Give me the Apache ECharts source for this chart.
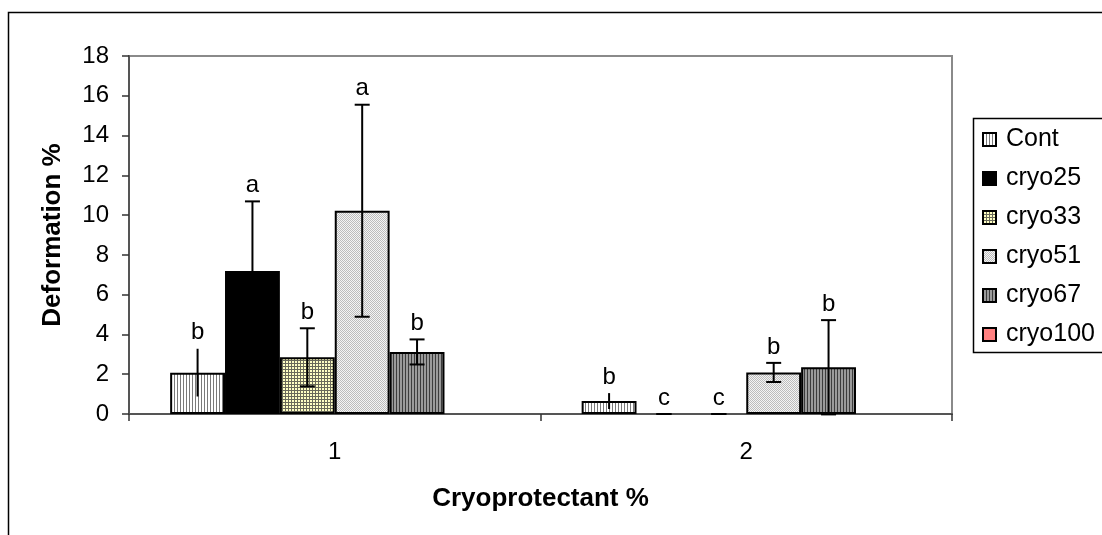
<!DOCTYPE html>
<html>
<head>
<meta charset="utf-8">
<script src="https://cdn.jsdelivr.net/npm/echarts@6/dist/echarts.min.js"></script>
<style>
  html, body { margin: 0; padding: 0; background: #fff; }
  #chart { width: 1102px; height: 535px; }
</style>
</head>
<body>
<div id="chart"></div>
<script>
// data
const categories = ['1', '2'];
const seriesNames = ['Cont', 'cryo25', 'cryo33', 'cryo51', 'cryo67', 'cryo100'];

const cont = [2.08, 0.65];
const cryo25 = [7.19, 0];
const cryo33 = [2.85, 0];
const cryo51 = [10.22, 2.09];
const cryo67 = [3.12, 2.35];
const cryo100 = ['-', '-'];

const contErr = [1.2, 0.4];
const cryo25Err = [3.5, 0];
const cryo33Err = [1.46, 0];
const cryo51Err = [5.33, 0.48];
const cryo67Err = [0.63, 2.37];
const cryo100Err = ['-', '-'];

const contSig = ['b', 'b'];
const cryo25Sig = ['a', 'c'];
const cryo33Sig = ['b', 'c'];
const cryo51Sig = ['a', 'b'];
const cryo67Sig = ['b', 'b'];
const cryo100Sig = ['', ''];

const yTicks = { min: 0, max: 18, interval: 2 };

const values = [cont, cryo25, cryo33, cryo51, cryo67, cryo100];
const errors = [contErr, cryo25Err, cryo33Err, cryo51Err, cryo67Err, cryo100Err];
const letters = [contSig, cryo25Sig, cryo33Sig, cryo51Sig, cryo67Sig, cryo100Sig];

const FONT = "'Liberation Sans', Arial, sans-serif";

// small canvas fills that mimic the excel hatch patterns
function makePattern(w, h, draw) {
  const c = document.createElement('canvas');
  c.width = w; c.height = h;
  const ctx = c.getContext('2d');
  draw(ctx);
  return { image: c, repeat: 'repeat' };
}
const fills = [
  makePattern(3, 1, ctx => {
    ctx.fillStyle = '#ffffff'; ctx.fillRect(0, 0, 3, 1);
    ctx.fillStyle = '#7a7a7a'; ctx.fillRect(0, 0, 1, 1);
  }),
  '#000000',
  makePattern(3, 3, ctx => {
    ctx.fillStyle = '#ffffc4'; ctx.fillRect(0, 0, 3, 3);
    ctx.fillStyle = '#6a6a5a'; ctx.fillRect(0, 0, 3, 1); ctx.fillRect(0, 0, 1, 3);
  }),
  makePattern(2, 2, ctx => {
    ctx.fillStyle = '#f4f4f4'; ctx.fillRect(0, 0, 2, 2);
    ctx.fillStyle = '#bcbcbc'; ctx.fillRect(0, 0, 1, 1); ctx.fillRect(1, 1, 1, 1);
  }),
  makePattern(3, 1, ctx => {
    ctx.fillStyle = '#9a9a9a'; ctx.fillRect(0, 0, 3, 1);
    ctx.fillStyle = '#3c3c3c'; ctx.fillRect(0, 0, 1, 1);
  }),
  '#ff8080'
];

// error bar items: [category index, series index, mean, error]
const errItems = [];
seriesNames.forEach((name, s) => {
  categories.forEach((cat, c) => {
    if (values[s][c] === '-') return;
    errItems.push({ value: [c, s, values[s][c], errors[s][c]], letter: letters[s][c] });
  });
});

const chart = echarts.init(document.getElementById('chart'));

const barSeries = seriesNames.map((name, s) => ({
  name: name,
  type: 'bar',
  // zero-height bars get no outline, excel draws nothing there
  data: values[s].map(v => v === 0 ? { value: 0, itemStyle: { borderWidth: 0 } } : v),
  barGap: '0%',
  barCategoryGap: '20%',
  itemStyle: { color: fills[s], borderColor: '#000', borderWidth: 2 },
  z: 2
}));

const errSeries = {
  name: 'err',
  type: 'custom',
  data: errItems,
  encode: { x: 0, y: 2 },
  z: 5,
  renderItem: function (params, api) {
    const c = api.value(0), s = api.value(1), v = api.value(2), e = api.value(3);
    const band = api.size([1, 0])[0];
    const bw = band * 0.8 / seriesNames.length;
    const center = api.coord([c, v]);
    const x = center[0] - band * 0.4 + bw * (s + 0.5);
    const top = api.coord([c, v + e])[1];
    const bot = api.coord([c, v - e])[1];
    const st = { stroke: '#000', lineWidth: 2 };
    const kids = [
      { type: 'line', shape: { x1: x, y1: top, x2: x, y2: bot }, style: st }
    ];
    if (s !== 0) {
      kids.push({ type: 'line', shape: { x1: x - 7.5, y1: top, x2: x + 7.5, y2: top }, style: st });
      kids.push({ type: 'line', shape: { x1: x - 7.5, y1: bot, x2: x + 7.5, y2: bot }, style: st });
    }
    const letter = errItems[params.dataIndex].letter;
    if (letter) {
      kids.push({
        type: 'text',
        style: {
          text: letter, x: x, y: top - 4,
          align: 'center', verticalAlign: 'bottom',
          fontSize: 24, fontFamily: FONT, fill: '#000'
        }
      });
    }
    return { type: 'group', children: kids };
  }
};

const option = {
  animation: false,
  backgroundColor: '#fff',
  textStyle: { fontFamily: FONT },
  grid: {
    left: 129, top: 56, right: 150, bottom: 121,
    show: true, borderColor: '#8a8a8a', borderWidth: 2
  },
  legend: {
    data: seriesNames,
    orient: 'vertical',
    left: 977,
    top: 122,
    itemWidth: 13,
    itemHeight: 13,
    itemGap: 14,
    icon: 'rect',
    textStyle: { fontSize: 25, color: '#000', fontFamily: FONT, lineHeight: 24, padding: [0, 0, 0, 5] }
  },
  xAxis: {
    type: 'category',
    data: categories,
    name: 'Cryoprotectant %',
    nameLocation: 'middle',
    nameGap: 72,
    nameTextStyle: { fontSize: 26, fontWeight: 'bold', color: '#000', fontFamily: FONT },
    axisLine: { lineStyle: { color: '#555', width: 2 } },
    axisTick: { show: true, length: 7, lineStyle: { color: '#333', width: 1.5 } },
    axisLabel: { fontSize: 24, color: '#000', margin: 26, fontFamily: FONT }
  },
  yAxis: {
    type: 'value',
    min: yTicks.min,
    max: yTicks.max,
    interval: yTicks.interval,
    name: 'Deformation %',
    nameLocation: 'middle',
    nameGap: 63,
    nameTextStyle: { fontSize: 26, fontWeight: 'bold', color: '#000', fontFamily: FONT },
    axisLine: { show: true, lineStyle: { color: '#555', width: 2 } },
    axisTick: { show: true, length: 7, lineStyle: { color: '#333', width: 1.5 } },
    axisLabel: { fontSize: 24, color: '#000', margin: 20, fontFamily: FONT },
    splitLine: { show: false }
  },
  graphic: [
    // outer chart frame (runs off the right and bottom edge like the source)
    { type: 'rect', shape: { x: 8.5, y: 12.5, width: 1400, height: 800 },
      style: { fill: 'none', stroke: '#000', lineWidth: 1.5 }, silent: true, z: -1 },
    // legend box
    { type: 'rect', shape: { x: 973.5, y: 118.5, width: 140, height: 234 },
      style: { fill: '#fff', stroke: '#000', lineWidth: 1.5 }, silent: true, z: -1 }
  ],
  series: barSeries.concat([errSeries])
};

chart.setOption(option);
</script>
</body>
</html>
